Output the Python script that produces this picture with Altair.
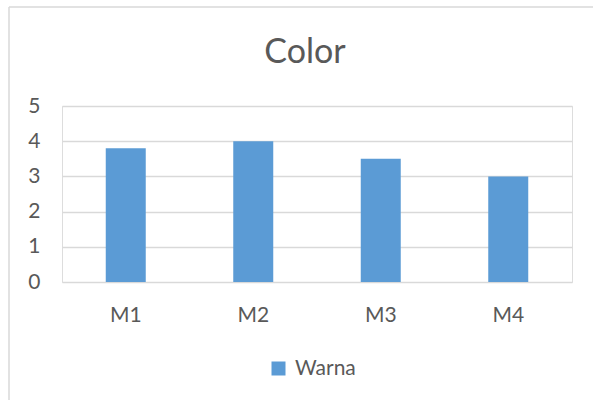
import altair as alt
import pandas as pd

categories = ["M1", "M2", "M3", "M4"]
values = [3.8, 4.0, 3.5, 3.0]
series_name = "Warna"
y_ticks = [0, 1, 2, 3, 4, 5]

df = pd.DataFrame({"cat": categories, "val": values, "series": [series_name] * len(categories)})

FONT = "Lato"
TXT = "#595959"
GRID = "#d9d9d9"
BAR = "#5b9bd5"

bars = alt.Chart(df).mark_bar(color=BAR, size=40).encode(
    x=alt.X("cat:N", sort=categories, title=None,
            scale=alt.Scale(paddingInner=0.0, paddingOuter=0.0),
            axis=alt.Axis(labelAngle=0, domain=False, ticks=False, labelPadding=22,
                          labelFont=FONT, labelFontSize=21, labelColor=TXT, grid=False)),
    y=alt.Y("val:Q", title=None, scale=alt.Scale(domain=[0, 5], nice=False),
            axis=alt.Axis(values=y_ticks, domain=False, ticks=False, labelPadding=22,
                          labelFont=FONT, labelFontSize=21, labelColor=TXT,
                          grid=True, gridColor=GRID, gridWidth=1.5)),
    color=alt.Color("series:N", scale=alt.Scale(range=[BAR]),
                    legend=alt.Legend(title=None, orient="none", legendX=206, legendY=252,
                                      symbolType="square", symbolSize=196, symbolStrokeWidth=0,
                                      labelFont=FONT, labelFontSize=21, labelColor=TXT,
                                      labelOffset=6)),
)

border_data = alt.Data(values=[{}])
left_line = alt.Chart(border_data).mark_rule(color=GRID, strokeWidth=1.5).encode(
    x=alt.value(-53), y=alt.value(-99), y2=alt.value(300))
top_line = alt.Chart(border_data).mark_rule(color=GRID, strokeWidth=1.5).encode(
    x=alt.value(-53), x2=alt.value(540), y=alt.value(-99))

chart = alt.layer(bars, left_line, top_line).properties(
    width=510, height=176,
    title=alt.TitleParams("Color", font=FONT, fontSize=34, fontWeight="normal", color=TXT,
                          anchor="middle", frame="group", offset=-64, dx=-12),
    autosize=alt.AutoSizeParams(type="none"),
    padding={"left": 62, "top": 106, "right": 21, "bottom": 118},
).configure_view(stroke=None).configure(background="white")

chart.save("out.html", embed_options={"renderer": "svg", "actions": False})
